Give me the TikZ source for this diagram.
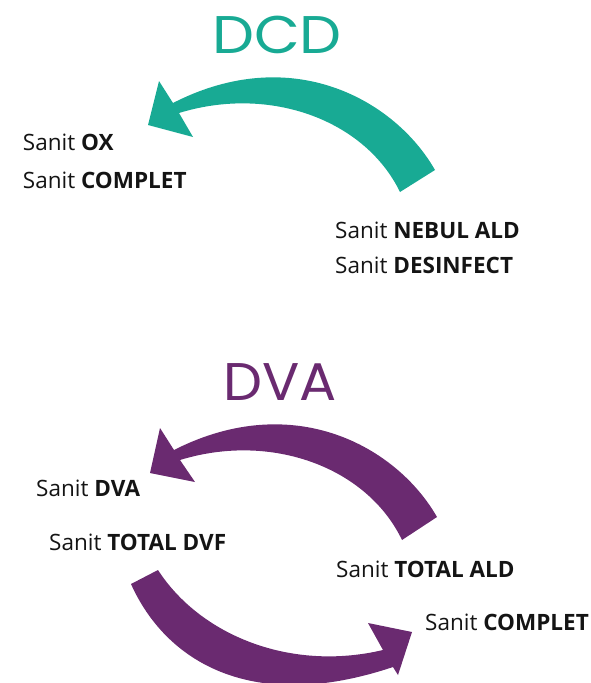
\documentclass[tikz,border=0pt]{standalone}
\usepackage{fontspec}
\setmainfont{Open Sans}
\newfontfamily\titlefont{Poppins}
\definecolor{dcdteal}{RGB}{24,170,148}
\definecolor{dvapurple}{RGB}{106,42,112}
\definecolor{txt}{RGB}{20,20,20}
\begin{document}
\begin{tikzpicture}[x=1pt,y=-1pt,
  lbl/.style={anchor=base west,inner sep=0pt,text=txt,font=\fontsize{22.5}{25}\selectfont},
  ttl/.style={anchor=base,inner sep=0pt,font=\titlefont\fontsize{53}{56}\selectfont}]
\useasboundingbox (0,0) rectangle (590,683);
\clip (0,0) rectangle (590,683);
% titles
\node[ttl,text=dcdteal] (tdcd) at (277,53.5) {\scalebox{1.12}[1]{DCD}};
\node[ttl,text=dvapurple] (tdva) at (280,400) {\scalebox{1.04}[1]{DVA}};
% DCD arrow
\fill[dcdteal] (435,170) .. controls (395,100) and (292,42) .. (173,103)
  -- (159,81) -- (148,125) -- (193,137) -- (179,113)
  .. controls (270,85) and (365,120) .. (400,192) -- cycle;
% DVA upper arrow
\fill[dvapurple] (437,517) .. controls (397,447) and (294,389) .. (174,450)
  -- (160,428) -- (150,473) -- (195,482) -- (180,460)
  .. controls (271,432) and (367,467) .. (402,540) -- cycle;
% DVA lower arrow
\fill[dvapurple] (158,570) .. controls (200,635) and (290,672) .. (383,650)
  -- (368,623) -- (412,632) -- (398,675) -- (393,667)
  .. controls (250,715) and (165,660) .. (131,584) -- cycle;
% labels
\node[lbl] (ox) at (22.7,150) {Sanit \textbf{OX}};
\node[lbl] (compl1) at (22.7,188) {Sanit \textbf{COMPLET}};
\node[lbl] (nebul) at (335,238) {Sanit \textbf{NEBUL ALD}};
\node[lbl] (desinf) at (335,273) {Sanit \textbf{DESINFECT}};
\node[lbl] (dva) at (36,496) {Sanit \textbf{DVA}};
\node[lbl] (dvf) at (49,550) {Sanit \textbf{TOTAL DVF}};
\node[lbl] (ald) at (336,577) {Sanit \textbf{TOTAL ALD}};
\node[lbl] (compl2) at (425,630) {Sanit \textbf{COMPLET}};
\end{tikzpicture}
\end{document}
